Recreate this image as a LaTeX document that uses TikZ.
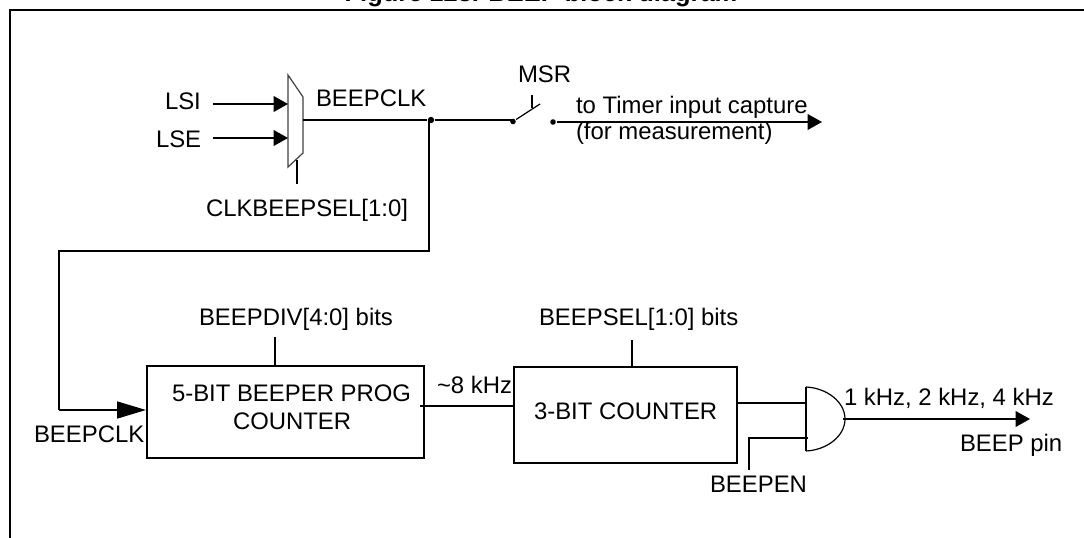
\documentclass[tikz,border=0pt]{standalone}
\usepackage{fontspec}
\setmainfont{Liberation Sans}
\usetikzlibrary{arrows.meta}
\definecolor{muxframe}{HTML}{404040}

\begin{document}
\begin{tikzpicture}[x=0.25mm, y=-0.25mm, line width=0.5mm,
  lab/.style={font=\fontsize{17}{20}\selectfont, inner sep=0, anchor=base west},
  block/.style={draw, inner sep=0},
  smallsig/.style={-{Triangle[length=3.6mm, width=3.9mm]}},
  dot/.style={circle, fill, inner sep=0, minimum size=1.6mm}]
\path[use as bounding box, clip] (0,0) rectangle (1084,538);
% title and frame
\node[font=\fontsize{18.1}{22}\selectfont\bfseries, inner sep=0, anchor=base] (title) at (541,2)
  {Figure 123. BEEP block diagram};
\draw (10,538) -- (10,10) -- (1084,10);
% clock selection
\draw[line width=0.3mm, muxframe] (288,75) -- (303,97) -- (303,153) -- (288,167) -- cycle;
\coordinate (muxlsi) at (288,104);
\coordinate (muxlse) at (288,138);
\coordinate (muxout) at (303,120);
\node[lab] (lsi) at (164,110) {LSI};
\node[lab] (lse) at (155,148) {LSE};
\coordinate (lsistart) at (213,104);
\coordinate (lsestart) at (213,138);
\draw[smallsig] (lsistart) -- (muxlsi);
\draw[smallsig] (lsestart) -- (muxlse);
\coordinate (muxsel) at (297,160);
\coordinate (muxselend) at (297,184);
\draw (muxsel) -- (muxselend);
\node[lab] (clkbeepsel) at (205,216) {CLKBEEPSEL[1:0]};
\node[lab] (beepclktop) at (315,107) {BEEPCLK};
% switch
\node[dot] (split) at (431,120) {};
\node[dot, minimum size=1.4mm] (swa) at (513,121.5) {};
\node[dot, minimum size=1.4mm] (swb) at (553,122) {};
\coordinate (swtip) at (540,104);
\coordinate (swtop) at (532,95);
\coordinate (swmid) at (532,108);
\coordinate (timerend) at (822,122);
\draw (muxout) -- (split) -- (513,120);
\draw[line width=0.3mm] (swa) -- (swtip);
\draw[line width=0.3mm] (swtop) -- (swmid);
\draw[smallsig] (swb) -- (timerend);
\node[lab] (msr) at (517,83) {MSR};
\node[lab] (timer) at (575,114) {to Timer input capture};
\node[lab] (measure) at (575,140) {(for measurement)};
% counters
\node[block, minimum width=69.25mm, minimum height=23mm] (prog) at (285.5,412) {};
\node[block, minimum width=55.75mm, minimum height=24mm] (cnt) at (625.5,415) {};
\node[lab] (progtxt) at (171,401) {5-BIT BEEPER PROG};
\node[lab] (progtxtb) at (232,429) {COUNTER};
\node[lab] (cnttxt) at (533,419) {3-BIT COUNTER};
\coordinate (feeda) at (429,251);
\coordinate (feedb) at (59,251);
\coordinate (feedc) at (59,410);
\draw (429,120) -- (feeda) -- (feedb) -- (feedc);
\draw[-{Triangle[length=7.2mm, width=4.2mm]}] (feedc) -- (prog.west |- feedc);
\node[lab] (beepclk) at (33,442) {BEEPCLK};
\coordinate (divtop) at (275,337);
\draw (divtop) -- (prog.north -| divtop);
\node[lab] (beepdiv) at (198,325) {BEEPDIV[4:0] bits};
\coordinate (seltop) at (632,340);
\draw (seltop) -- (cnt.north -| seltop);
\node[lab] (beepsel) at (538,325) {BEEPSEL[1:0] bits};
\coordinate (khzin) at (420,406);
\draw (khzin) -- (cnt.west |- khzin);
\node[lab] (khz) at (436,393) {\textasciitilde 8 kHz};
% output gate
\coordinate (anda) at (806,387);
\coordinate (andb) at (806,451);
\coordinate (andout) at (845,419);
\draw[line width=0.3mm] (anda) .. controls (827,388) and (845,402) .. (andout)
  .. controls (845,436) and (827,450) .. (andb);
\draw (anda) -- (andb);
\coordinate (andin) at (806,403);
\draw (cnt.east |- andin) -- (andin);
\coordinate (enbot) at (749,470);
\coordinate (enmid) at (749,438);
\coordinate (enend) at (808,438);
\draw (enbot) -- (enmid) -- (enend);
\node[lab] (beepen) at (709,492) {BEEPEN};
\coordinate (pinstart) at (843,419);
\coordinate (pinend) at (1030,419);
\draw[smallsig] (pinstart) -- (pinend);
\node[lab] (freq) at (843,405) {1 kHz, 2 kHz, 4 kHz};
\node[lab] (pin) at (959,451) {BEEP pin};
\end{tikzpicture}
\end{document}
